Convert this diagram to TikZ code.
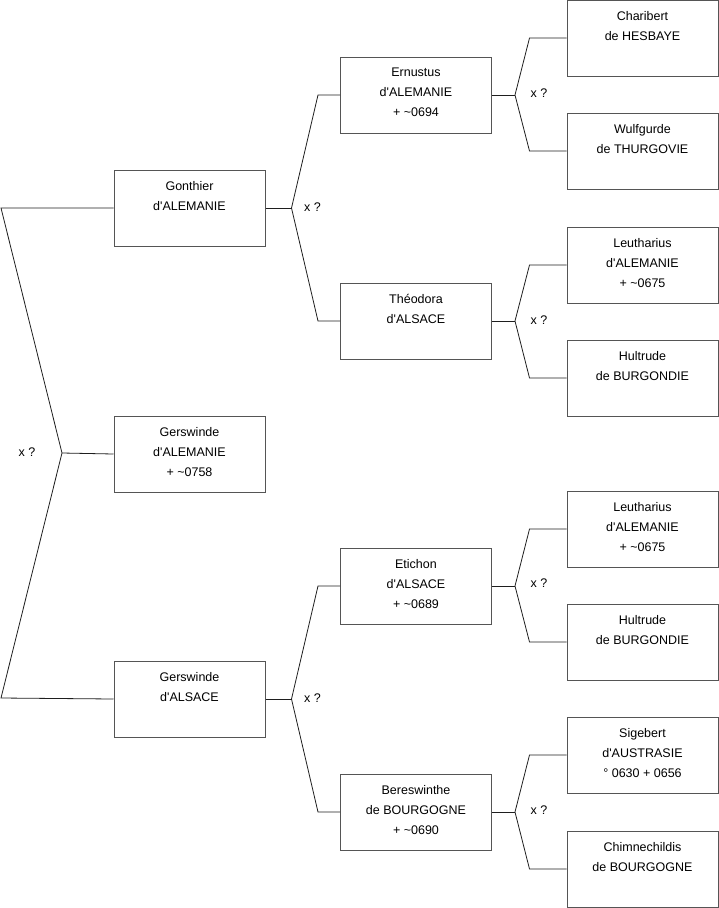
\documentclass[tikz,border=0pt]{standalone}
\usepackage{fontspec}
\setmainfont{Liberation Sans}
\usetikzlibrary{positioning, calc}
\definecolor{boxline}{RGB}{85,85,85}
\definecolor{linkline}{RGB}{30,30,30}
\newcommand{\ap}{\textquotesingle}

\begin{document}
\begin{tikzpicture}[x=1pt, y=-1pt, font=\fontsize{12.5}{20}\selectfont,
  person/.style={draw=boxline, line width=1pt, align=center,
                 minimum width=151pt, minimum height=76pt, inner sep=0pt,
                 text depth=5pt},
  wire/.style={draw=linkline, line width=0.8pt},
  couple/.style={font=\fontsize{12.5}{15}\selectfont}]
  \useasboundingbox (0,0) rectangle (719,908);

  % generation 1
  \node[person] (g1) at (189.5,208) {Gonthier\\d\ap ALEMANIE\\~};
  \node[person] (g2) at (189.5,454) {Gerswinde\\d\ap ALEMANIE\\+ \textasciitilde0758};
  \node[person] (g3) at (189.5,699) {Gerswinde\\d\ap ALSACE\\~};

  % generation 2
  \node[person] (e1) at (416,95)  {Ernustus\\d\ap ALEMANIE\\+ \textasciitilde0694};
  \node[person] (t1) at (416,321) {Théodora\\d\ap ALSACE\\~};
  \node[person] (e2) at (416,586) {Etichon\\d\ap ALSACE\\+ \textasciitilde0689};
  \node[person] (b2) at (416,812) {Bereswinthe\\de BOURGOGNE\\+ \textasciitilde0690};

  % generation 3
  \node[person] (c1) at (642.5,38)  {Charibert\\de HESBAYE\\~};
  \node[person] (w1) at (642.5,151) {Wulfgurde\\de THURGOVIE\\~};
  \node[person] (l1) at (642.5,265) {Leutharius\\d\ap ALEMANIE\\+ \textasciitilde0675};
  \node[person] (h1) at (642.5,378) {Hultrude\\de BURGONDIE\\~};
  \node[person] (l2) at (642.5,529) {Leutharius\\d\ap ALEMANIE\\+ \textasciitilde0675};
  \node[person] (h2) at (642.5,642) {Hultrude\\de BURGONDIE\\~};
  \node[person] (s2) at (642.5,755) {Sigebert\\d\ap AUSTRASIE\\° 0630 + 0656};
  \node[person] (m2) at (642.5,869) {Chimnechildis\\de BOURGOGNE\\~};

  % forks
  \coordinate (v0) at (62,453);
  \coordinate (v0a) at (1,208);
  \coordinate (v0b) at (1,698);
  \coordinate (v1) at ($(g1.east)+(26,0)$);
  \coordinate (v3) at ($(g3.east)+(26,0)$);
  \coordinate (ve1) at ($(e1.east)+(23,0)$);
  \coordinate (vt1) at ($(t1.east)+(23,0)$);
  \coordinate (ve2) at ($(e2.east)+(23,0)$);
  \coordinate (vb2) at ($(b2.east)+(23,0)$);

  \draw[wire] (g1.west) -- (v0a) -- (v0) -- (v0b) -- (g3.west);
  \draw[wire] (v0) -- (g2.west);
  \node[couple] at ($(v0)+(-35,-1)$) {x ?};

  \draw[wire] (g1.east) -- (v1);
  \draw[wire] (e1.west) -- ++(-22,0) -- (v1) -- ($(t1.west)+(-22,0)$) -- (t1.west);
  \node[couple] at ($(v1)+(21,-1)$) {x ?};

  \draw[wire] (g3.east) -- (v3);
  \draw[wire] (e2.west) -- ++(-22,0) -- (v3) -- ($(b2.west)+(-22,0)$) -- (b2.west);
  \node[couple] at ($(v3)+(21,-1)$) {x ?};

  \draw[wire] (e1.east) -- (ve1);
  \draw[wire] (c1.west) -- ++(-37,0) -- (ve1) -- ($(w1.west)+(-37,0)$) -- (w1.west);
  \node[couple] at ($(ve1)+(24,-2)$) {x ?};

  \draw[wire] (t1.east) -- (vt1);
  \draw[wire] (l1.west) -- ++(-37,0) -- (vt1) -- ($(h1.west)+(-37,0)$) -- (h1.west);
  \node[couple] at ($(vt1)+(24,-1)$) {x ?};

  \draw[wire] (e2.east) -- (ve2);
  \draw[wire] (l2.west) -- ++(-37,0) -- (ve2) -- ($(h2.west)+(-37,0)$) -- (h2.west);
  \node[couple] at ($(ve2)+(24,-3)$) {x ?};

  \draw[wire] (b2.east) -- (vb2);
  \draw[wire] (s2.west) -- ++(-37,0) -- (vb2) -- ($(m2.west)+(-37,0)$) -- (m2.west);
  \node[couple] at ($(vb2)+(24,-2)$) {x ?};
\end{tikzpicture}
\end{document}
